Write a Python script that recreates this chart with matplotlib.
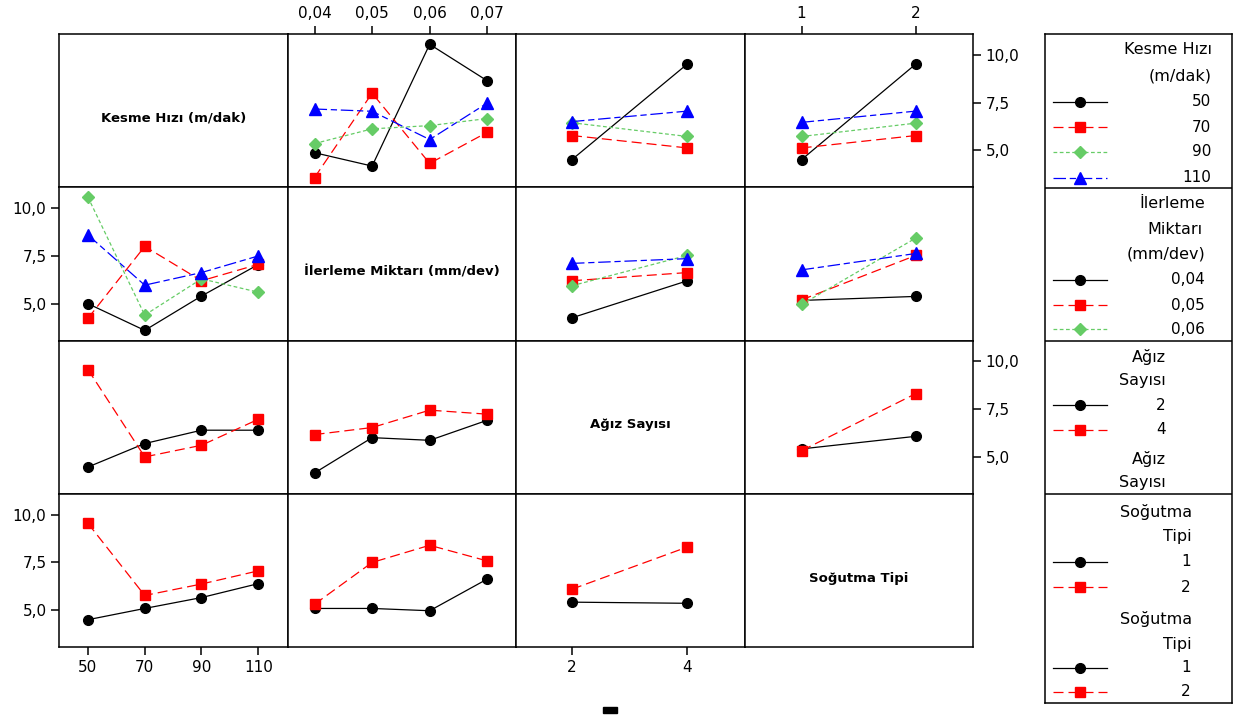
import matplotlib
matplotlib.use("Agg")
import matplotlib.pyplot as plt
from matplotlib.patches import Rectangle

plt.rcParams['font.family'] = ['DejaVu Sans']

# factor levels
kesme = [50, 70, 90, 110]
ilerleme = [0.04, 0.05, 0.06, 0.07]
agiz = [2, 4]
sogutma = [1, 2]

kesme_labels = ["50", "70", "90", "110"]
ilerleme_labels = ["0,04", "0,05", "0,06", "0,07"]
agiz_labels = ["2", "4"]
sogutma_labels = ["1", "2"]

names = ["Kesme Hızı (m/dak)", "İlerleme Miktarı (mm/dev)", "Ağız Sayısı", "Soğutma Tipi"]

# interaction means, rows = line factor levels, cols = x factor levels
k_by_i = [[4.88, 4.18, 10.56, 8.65],
          [3.58, 8.00, 4.32, 5.95],
          [5.36, 6.13, 6.30, 6.67],
          [7.17, 7.05, 5.57, 7.48]]
k_by_a = [[4.52, 9.53], [5.78, 5.13], [6.45, 5.73], [6.51, 7.06]]
k_by_s = [[4.52, 9.53], [5.13, 5.78], [5.73, 6.43], [6.47, 7.06]]
i_by_k = [[5.00, 3.60, 5.40, 7.05],
          [4.23, 8.00, 6.20, 7.06],
          [10.58, 4.40, 6.30, 5.60],
          [8.60, 5.97, 6.63, 7.50]]
i_by_a = [[4.26, 6.20], [6.20, 6.63], [5.94, 7.53], [7.11, 7.36]]
i_by_s = [[5.17, 5.38], [5.20, 7.53], [4.96, 8.44], [6.77, 7.63]]
a_by_k = [[4.47, 5.70, 6.40, 6.40], [9.58, 5.00, 5.61, 6.97]]
a_by_i = [[4.16, 6.01, 5.87, 6.92], [6.17, 6.54, 7.45, 7.24]]
a_by_s = [[5.42, 6.08], [5.33, 8.32]]
s_by_k = [[4.50, 5.09, 5.66, 6.39], [9.55, 5.77, 6.37, 7.06]]
s_by_i = [[5.09, 5.09, 4.97, 6.63], [5.31, 7.50, 8.40, 7.58]]
s_by_a = [[5.42, 5.36], [6.10, 8.31]]

panels = {
    (0, 1): k_by_i, (0, 2): k_by_a, (0, 3): k_by_s,
    (1, 0): i_by_k, (1, 2): i_by_a, (1, 3): i_by_s,
    (2, 0): a_by_k, (2, 1): a_by_i, (2, 3): a_by_s,
    (3, 0): s_by_k, (3, 1): s_by_i, (3, 2): s_by_a,
}

x_levels = [kesme, ilerleme, agiz, sogutma]
x_labels = [kesme_labels, ilerleme_labels, agiz_labels, sogutma_labels]
x_lims = [(39.8, 120.3), (0.0353, 0.0750), (1.03, 4.99), (0.5, 2.5)]
y_lim = (3.07, 11.1)
y_ticks = [5.0, 7.5, 10.0]
y_tick_labels = ["5,0", "7,5", "10,0"]

styles = [
    dict(color="black", ls="-", marker="o", ms=7),
    dict(color="red", ls=(0, (8, 4)), marker="s", ms=7),
    dict(color="#66CC66", ls=(0, (3, 2)), marker="D", ms=6),
    dict(color="blue", ls=(0, (10, 3, 5, 3)), marker="^", ms=8),
]

W, H = 1244, 715
fig = plt.figure(figsize=(W / 100, H / 100), dpi=100)

left, top = 59, 34
cw, ch = 228.5, 153.25

for r in range(4):
    for c in range(4):
        ax = fig.add_axes([(left + c * cw) / W, 1 - (top + (r + 1) * ch) / H, cw / W, ch / H])
        for s in ax.spines.values():
            s.set_linewidth(1.1)
        ax.set_xlim(*x_lims[c])
        ax.set_ylim(*y_lim)
        ax.tick_params(axis="both", which="both", bottom=False, top=False, left=False, right=False,
                       labelbottom=False, labeltop=False, labelleft=False, labelright=False,
                       direction="out", length=6, width=1.1, labelsize=11, pad=3)
        if r == c:
            ax.set_xticks([])
            ax.set_yticks([])
            ax.text(0.5, 0.45, names[r], transform=ax.transAxes, ha="center", va="center",
                    fontsize=9.5, fontweight="bold")
            continue
        data = panels[(r, c)]
        for k, vals in enumerate(data):
            st = styles[k]
            ax.plot(x_levels[c], vals, color=st["color"], ls=st["ls"], lw=0.9,
                    marker=st["marker"], ms=st["ms"], mec=st["color"], mfc=st["color"])
        ax.set_xticks(x_levels[c])
        ax.set_xticklabels(x_labels[c])
        ax.set_yticks(y_ticks)
        ax.set_yticklabels(y_tick_labels)
        if r == 0 and c in (1, 3):
            ax.tick_params(axis="x", top=True, labeltop=True)
        if r == 3 and c in (0, 2):
            ax.tick_params(axis="x", bottom=True, labelbottom=True)
        if c == 3 and r in (0, 2):
            ax.tick_params(axis="y", right=True, labelright=True)
        if c == 0 and r in (1, 3):
            ax.tick_params(axis="y", left=True, labelleft=True)

# legend panel
lx0, lx1, ly0, ly1 = 1045, 1232, 34, 703
lax = fig.add_axes([lx0 / W, 1 - ly1 / H, (lx1 - lx0) / W, (ly1 - ly0) / H])
lax.set_xlim(lx0, lx1)
lax.set_ylim(ly1, ly0)
lax.set_xticks([])
lax.set_yticks([])
for s in lax.spines.values():
    s.set_linewidth(1.1)
for yb in (188, 341, 494):
    lax.axhline(yb, color="black", lw=1.1)


def legend_entry(y, k, label, xr):
    st = styles[k]
    lax.plot([1053, 1107], [y, y], color=st["color"], ls=st["ls"], lw=0.9)
    lax.plot([1080], [y], marker=st["marker"], ms=st["ms"], color=st["color"], ls="none")
    lax.text(xr, y, label, ha="right", va="center", fontsize=11)


def legend_title(y, text, xr):
    lax.text(xr, y, text, ha="right", va="center", fontsize=11.5)


legend_title(50, "Kesme Hızı", 1212)
legend_title(76, "(m/dak)", 1212)
for k, (yy, lab) in enumerate(zip([102, 127, 152, 178], kesme_labels)):
    legend_entry(yy, k, lab, 1211)

legend_title(204, "İlerleme", 1205)
legend_title(229, "Miktarı", 1203)
legend_title(254, "(mm/dev)", 1205)
for k, (yy, lab) in enumerate(zip([280, 305, 329], ilerleme_labels[:3])):
    legend_entry(yy, k, lab, 1205)

legend_title(357, "Ağız", 1166)
legend_title(381, "Sayısı", 1166)
for k, (yy, lab) in enumerate(zip([405, 430], agiz_labels)):
    legend_entry(yy, k, lab, 1166)
legend_title(459, "Ağız", 1166)
legend_title(483, "Sayısı", 1166)

legend_title(512, "Soğutma", 1192)
legend_title(536, "Tipi", 1192)
for k, (yy, lab) in enumerate(zip([562, 587], sogutma_labels)):
    legend_entry(yy, k, lab, 1191)
legend_title(619, "Soğutma", 1192)
legend_title(644, "Tipi", 1192)
for k, (yy, lab) in enumerate(zip([668, 692], sogutma_labels)):
    legend_entry(yy, k, lab, 1191)

# clipped remnant at bottom of original figure
fig.add_artist(Rectangle((603 / W, 1 - 713 / H), 14 / W, 6 / H, color="black",
                         transform=fig.transFigure))

fig.savefig("out.png", dpi=100)
